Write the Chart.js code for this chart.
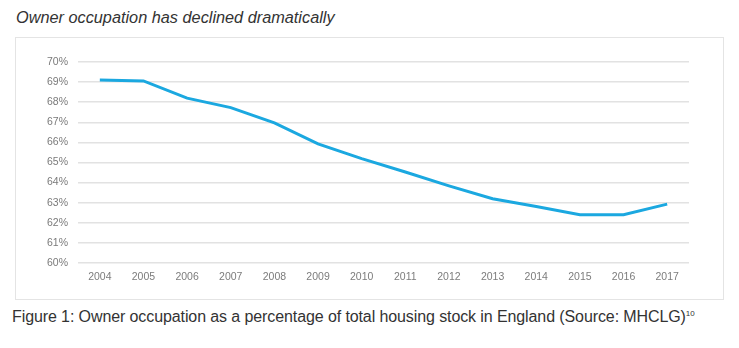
<!DOCTYPE html>
<html>
<head>
<meta charset="utf-8">
<script src="https://cdn.jsdelivr.net/npm/chart.js@4.4.1/dist/chart.umd.min.js"></script>
<style>
  body { margin: 0; background: #fff; width: 739px; height: 348px; position: relative; overflow: hidden; }
  #title { position: absolute; left: 16px; top: 8px; font: italic 16.3px "Liberation Sans", Arial, sans-serif; color: #333; }
  #box { position: absolute; left: 15px; top: 37px; width: 707px; height: 261px; border: 1.5px solid #e4e4e4; background: #fff; }
  #caption { position: absolute; left: 12px; top: 308px; font: 16px "Liberation Sans", Arial, sans-serif; color: #333; letter-spacing: -0.1px; }
  #caption sup { font-size: 8px; }
</style>
</head>
<body>
<div id="title">Owner occupation has declined dramatically</div>
<div id="box"><canvas id="chart" width="707" height="261"></canvas></div>
<div id="caption">Figure 1: Owner occupation as a percentage of total housing stock in England (Source: MHCLG)<sup>10</sup></div>
<script>
  // Owner occupation, % of housing stock in England
  let years = ['2004', '2005', '2006', '2007', '2008', '2009', '2010', '2011', '2012', '2013', '2014', '2015', '2016', '2017'];
  let ownerOccupation = [69.1, 69.06, 68.2, 67.73, 66.97, 65.93, 65.19, 64.53, 63.84, 63.2, 62.81, 62.4, 62.4, 62.93];
  let yMin = 60;
  let yMax = 70;

  let ctx = document.getElementById('chart').getContext('2d');
  let ownerChart = new Chart(ctx, {
    type: 'line',
    data: {
      labels: years,
      datasets: [{
        data: ownerOccupation,
        borderColor: '#1ba8e0',
        borderWidth: 3,
        pointRadius: 0,
        tension: 0,
        fill: false,
      }]
    },
    options: {
      responsive: false,
      animation: false,
      plugins: { legend: { display: false }, tooltip: { enabled: false } },
      layout: { padding: { top: 24, right: 34, left: 0, bottom: 0 } },
      scales: {
        x: {
          offset: true,
          grid: { display: false, drawTicks: false },
          border: { display: false },
          afterFit: function (axis) { axis.height = 36; },
          ticks: {
            padding: 8,
            color: '#7c7c7c',
            font: { family: 'Liberation Sans', size: 10.5 },
            maxRotation: 0,
            autoSkip: false,
          }
        },
        y: {
          min: yMin,
          max: yMax,
          afterFit: function (axis) { axis.width = 62; },
          grid: { color: '#e2e2e2', lineWidth: 1.5, drawTicks: false },
          border: { display: false },
          ticks: {
            stepSize: 1,
            padding: 10,
            color: '#7a7a7a',
            font: { family: 'Liberation Sans', size: 10.5 },
            callback: function (value) { return value + '%'; }
          }
        }
      }
    }
  });
</script>
</body>
</html>
